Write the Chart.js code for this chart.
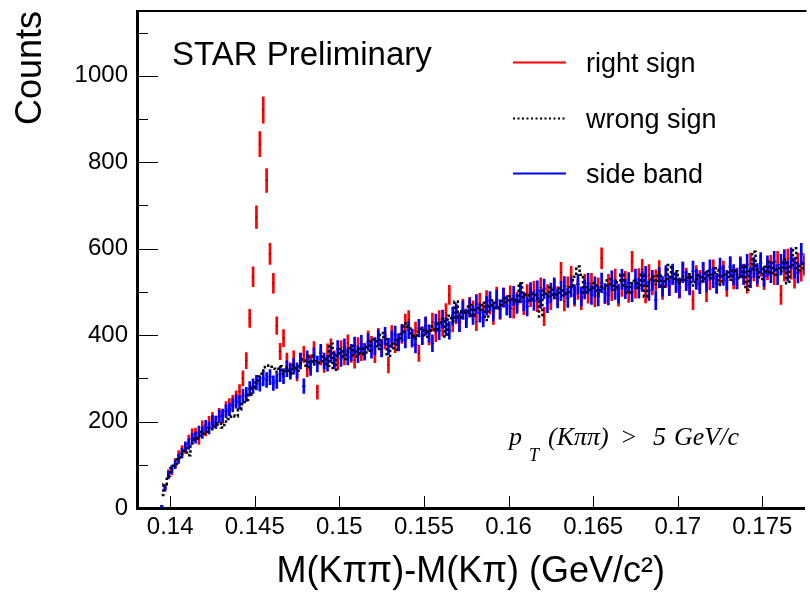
<!DOCTYPE html>
<html>
<head>
<meta charset="utf-8">
<script src="https://cdn.jsdelivr.net/npm/chart.js"></script>
<style>
  html, body { margin: 0; padding: 0; background: #fff; overflow: hidden; }
  #wrap { width: 810px; height: 597px; }
</style>
</head>
<body>
<div id="wrap"><canvas id="c" width="810" height="597"></canvas></div>
<script>
// Kpipi - Kpi mass difference, three samples in 0.2 MeV bins.
const BIN0 = 0.1395; // centre of first bin
const BINW = 0.0002;

const RIGHT_SIGN = [
  null, 48, 80, 86, 104, 122, 133, 138, 156, 170,
  172, 160, 188, 180, 198, 207, 199, 216, 210, 231,
  238, 245, 255, 269, 300, 341, 439, 535, 673, 842,
  921, 758, 588, 520, 422, 362, 393, 340, 318, 345,
  312, 340, 355, 322, 336, 366, 268, 350, 332, 361,
  372, 345, 338, 368, 350, 381, 356, 342, 375, 360,
  362, 390, 378, 355, 396, 371, 388, 331, 402, 379,
  384, 401, 428, 436, 392, 410, 358, 400, 421, 397,
  430, 405, 436, 418, 452, 493, 428, 447, 431, 462,
  440, 466, 458, 431, 475, 452, 481, 470, 446, 489,
  458, 487, 470, 492, 461, 478, 500, 469, 495, 488,
  502, 476, 510, 443, 495, 481, 506, 490, 545, 478,
  512, 536, 489, 505, 481, 518, 496, 520, 488, 510,
  578, 495, 518, 502, 530, 489, 512, 525, 498, 570,
  508, 531, 552, 497, 540, 516, 528, 549, 505, 533,
  515, 540, 521, 508, 546, 532, 519, 481, 538, 527,
  545, 500, 528, 551, 520, 537, 548, 512, 556, 530,
  532, 558, 541, 520, 566, 549, 535, 560, 528, 552,
  561, 540, 570, 493, 548, 575, 553, 532, 566, 548,
  560,
];

const WRONG_SIGN = [
  30, 55, 74, 92, 98, 112, 125, 138, 122, 150,
  160, 168, 176, 172, 185, 182, 190, 196, 186, 200,
  206, 214, 212, 228, 240, 250, 262, 278, 290, 304,
  318, 326, 330, 322, 315, 328, 310, 325, 312, 330,
  318, 335, 344, 326, 352, 332, 340, 336, 350, 329,
  380, 320, 352, 368, 345, 362, 375, 350, 368, 356,
  372, 360, 385, 390, 368, 405, 395, 352, 380, 366,
  388, 402, 427, 420, 398, 392, 408, 415, 396, 410,
  420, 412, 428, 438, 397, 445, 432, 478, 440, 455,
  452, 470, 445, 462, 458, 475, 435, 468, 480, 462,
  470, 485, 476, 490, 482, 478, 520, 488, 494, 480,
  496, 485, 443, 502, 490, 510, 486, 498, 508, 492,
  500, 515, 535, 559, 540, 498, 510, 505, 520, 496,
  512, 508, 530, 518, 505, 525, 540, 515, 498, 520,
  525, 510, 540, 489, 522, 535, 518, 545, 512, 530,
  562, 530, 548, 520, 535, 528, 541, 515, 530, 538,
  525, 548, 532, 540, 555, 518, 536, 545, 528, 550,
  540, 532, 560, 505, 548, 593, 552, 530, 558, 545,
  570, 540, 555, 548, 575, 520, 562, 601, 550, 565,
  555,
];

const SIDE_BAND = [
  4, 46, 76, 90, 101, 114, 127, 141, 148, 160,
  163, 176, 174, 189, 185, 200, 198, 212, 214, 224,
  228, 238, 247, 244, 259, 263, 276, 282, 290, 287,
  300, 296, 303, 289, 294, 310, 305, 322, 316, 328,
  318, 340, 282, 345, 325, 352, 333, 360, 340, 335,
  356, 341, 368, 346, 372, 350, 360, 376, 355, 380,
  361, 384, 366, 375, 392, 369, 398, 374, 390, 401,
  383, 405, 390, 412, 394, 378, 416, 398, 421, 404,
  381, 428, 410, 437, 420, 411, 444, 452, 429, 458,
  438, 463, 446, 472, 451, 440, 468, 479, 455, 482,
  460, 487, 468, 462, 491, 472, 497, 478, 466, 499,
  479, 503, 484, 507, 474, 498, 510, 485, 502, 513,
  486, 511, 494, 518, 489, 506, 520, 493, 512, 490,
  521, 497, 492, 526, 505, 496, 529, 507, 522, 500,
  530, 508, 524, 536, 503, 527, 481, 533, 513, 538,
  514, 541, 522, 510, 545, 526, 516, 548, 529, 519,
  545, 525, 551, 533, 520, 555, 538, 527, 558, 540,
  530, 556, 540, 563, 533, 557, 542, 567, 536, 560,
  545, 570, 540, 563, 574, 548, 578, 556, 544, 588,
  565,
];

const X_TICKS = [0.14, 0.145, 0.15, 0.155, 0.16, 0.165, 0.17, 0.175];
const Y_TICKS = [0, 200, 400, 600, 800, 1000];
const Y_MINOR = [100, 300, 500, 700, 900, 1100];
const X_MIN = 0.13804, X_MAX = 0.17749;
const Y_MIN = 0, Y_MAX = 1150;

const SANS = "'Liberation Sans', Arial, sans-serif";
const SERIF = "'Liberation Serif', 'Times New Roman', serif";
const RED = "#ff0000", BLUE = "#0000ff", BLACK = "#000000";

const binX = (i) => BIN0 + i * BINW;
const points = (vals) =>
  vals.map((v, i) => (v == null ? null : { x: binX(i), y: v })).filter(Boolean);
// poisson error bars as floating bars
const errBars = (vals) =>
  vals.map((v, i) => (v == null ? null : { x: binX(i), y: [v - Math.sqrt(v), v + Math.sqrt(v)] })).filter(Boolean);

const decorations = {
  id: "decorations",
  afterDraw(chart) {
    const { ctx, chartArea: a, scales: { x, y } } = chart;
    ctx.save();
    ctx.strokeStyle = BLACK;
    ctx.lineWidth = 2;
    ctx.beginPath();
    ctx.moveTo(a.left, a.top);
    ctx.lineTo(a.right + 2, a.top);
    ctx.stroke();

    // ROOT-style ticks pointing into the frame
    ctx.lineWidth = 1;
    ctx.beginPath();
    Y_TICKS.forEach((v) => {
      const py = Math.round(y.getPixelForValue(v)) + 0.5;
      ctx.moveTo(a.left, py);
      ctx.lineTo(a.left + 21, py);
    });
    Y_MINOR.forEach((v) => {
      const py = Math.round(y.getPixelForValue(v)) + 0.5;
      ctx.moveTo(a.left, py);
      ctx.lineTo(a.left + 11, py);
    });
    X_TICKS.forEach((v) => {
      const px = Math.round(x.getPixelForValue(v)) + 0.5;
      ctx.moveTo(px, a.bottom);
      ctx.lineTo(px, a.bottom - 12);
    });
    ctx.stroke();

    ctx.fillStyle = BLACK;
    ctx.textBaseline = "alphabetic";
    ctx.textAlign = "left";
    ctx.font = `33px ${SANS}`;
    ctx.fillText("STAR Preliminary", 172, 65);

    // legend
    const legend = [
      { label: "right sign", color: RED, dash: [], y: 62.5 },
      { label: "wrong sign", color: BLACK, dash: [2, 2.5], y: 118.5 },
      { label: "side band", color: BLUE, dash: [], y: 173.5 },
    ];
    ctx.font = `27px ${SANS}`;
    legend.forEach((l) => {
      ctx.strokeStyle = l.color;
      ctx.lineWidth = 2;
      ctx.setLineDash(l.dash);
      ctx.beginPath();
      ctx.moveTo(513, l.y);
      ctx.lineTo(566, l.y);
      ctx.stroke();
      ctx.fillText(l.label, 586, l.y + 9.5);
    });
    ctx.setLineDash([]);

    // p_T cut label
    ctx.font = `italic 26px ${SERIF}`;
    ctx.fillText("p", 509, 445);
    ctx.fillText("(Kππ)", 548, 445);
    ctx.fillText(">", 620, 445);
    ctx.fillText("5", 653, 445);
    ctx.fillText("GeV/c", 674, 445);
    ctx.font = `italic 18px ${SERIF}`;
    ctx.fillText("T", 529, 461);
    ctx.restore();
  },
};

new Chart(document.getElementById("c"), {
  type: "bar",
  data: {
    datasets: [
      {
        type: "line",
        label: "wrong sign",
        data: points(WRONG_SIGN),
        stepped: "middle",
        borderColor: BLACK,
        borderWidth: 2.5,
        borderDash: [2.5, 2.5],
        pointRadius: 0,
        fill: false,
      },
      {
        type: "scatter",
        label: "side band",
        data: points(SIDE_BAND),
        pointStyle: "line",
        radius: 1.7,
        borderWidth: 1.5,
        borderColor: BLUE,
        backgroundColor: BLUE,
      },
      {
        label: "side band err",
        data: errBars(SIDE_BAND),
        backgroundColor: BLUE,
        barThickness: 2,
        grouped: false,
      },
      {
        type: "scatter",
        label: "right sign",
        data: points(RIGHT_SIGN),
        pointStyle: "line",
        radius: 1,
        borderWidth: 1,
        borderColor: "#500000",
        backgroundColor: "#500000",
      },
      {
        label: "right sign err",
        data: errBars(RIGHT_SIGN),
        backgroundColor: RED,
        barThickness: 2,
        grouped: false,
      },
    ],
  },
  options: {
    responsive: false,
    animation: false,
    devicePixelRatio: 1,
    layout: { padding: { top: 11, right: 0, left: 0, bottom: 0 } },
    plugins: { legend: { display: false }, tooltip: { enabled: false } },
    scales: {
      x: {
        type: "linear",
        min: X_MIN,
        max: X_MAX,
        offset: false,
        grid: { display: false, drawTicks: false, offset: false },
        border: { display: true, width: 3, color: BLACK },
        afterBuildTicks: (s) => { s.ticks = X_TICKS.map((value) => ({ value })); },
        ticks: {
          callback: (v) => String(v),
          font: { family: SANS, size: 24 },
          color: BLACK,
          padding: 5,
          maxRotation: 0,
          autoSkip: false,
        },
        title: {
          display: true,
          text: "M(Kππ)-M(Kπ) (GeV/c²)",
          font: { family: SANS, size: 36 },
          color: BLACK,
          padding: { top: 0, bottom: 3 },
        },
        afterFit: (s) => { s.height = 89; s.paddingLeft = 0; s.paddingRight = 0; },
      },
      y: {
        min: Y_MIN,
        max: Y_MAX,
        grid: { display: false, drawTicks: false },
        border: { display: true, width: 3, color: BLACK },
        afterBuildTicks: (s) => { s.ticks = Y_TICKS.map((value) => ({ value })); },
        ticks: {
          callback: (v) => String(v),
          font: { family: SANS, size: 24 },
          color: BLACK,
          padding: 9,
        },
        title: {
          display: true,
          text: "Counts",
          align: "end",
          font: { family: SANS, size: 36 },
          color: BLACK,
          padding: { top: 9, bottom: 0 },
        },
        afterFit: (s) => { s.width = 137; s.paddingTop = 0; s.paddingBottom = 0; },
      },
    },
  },
  plugins: [decorations],
});
</script>
</body>
</html>
